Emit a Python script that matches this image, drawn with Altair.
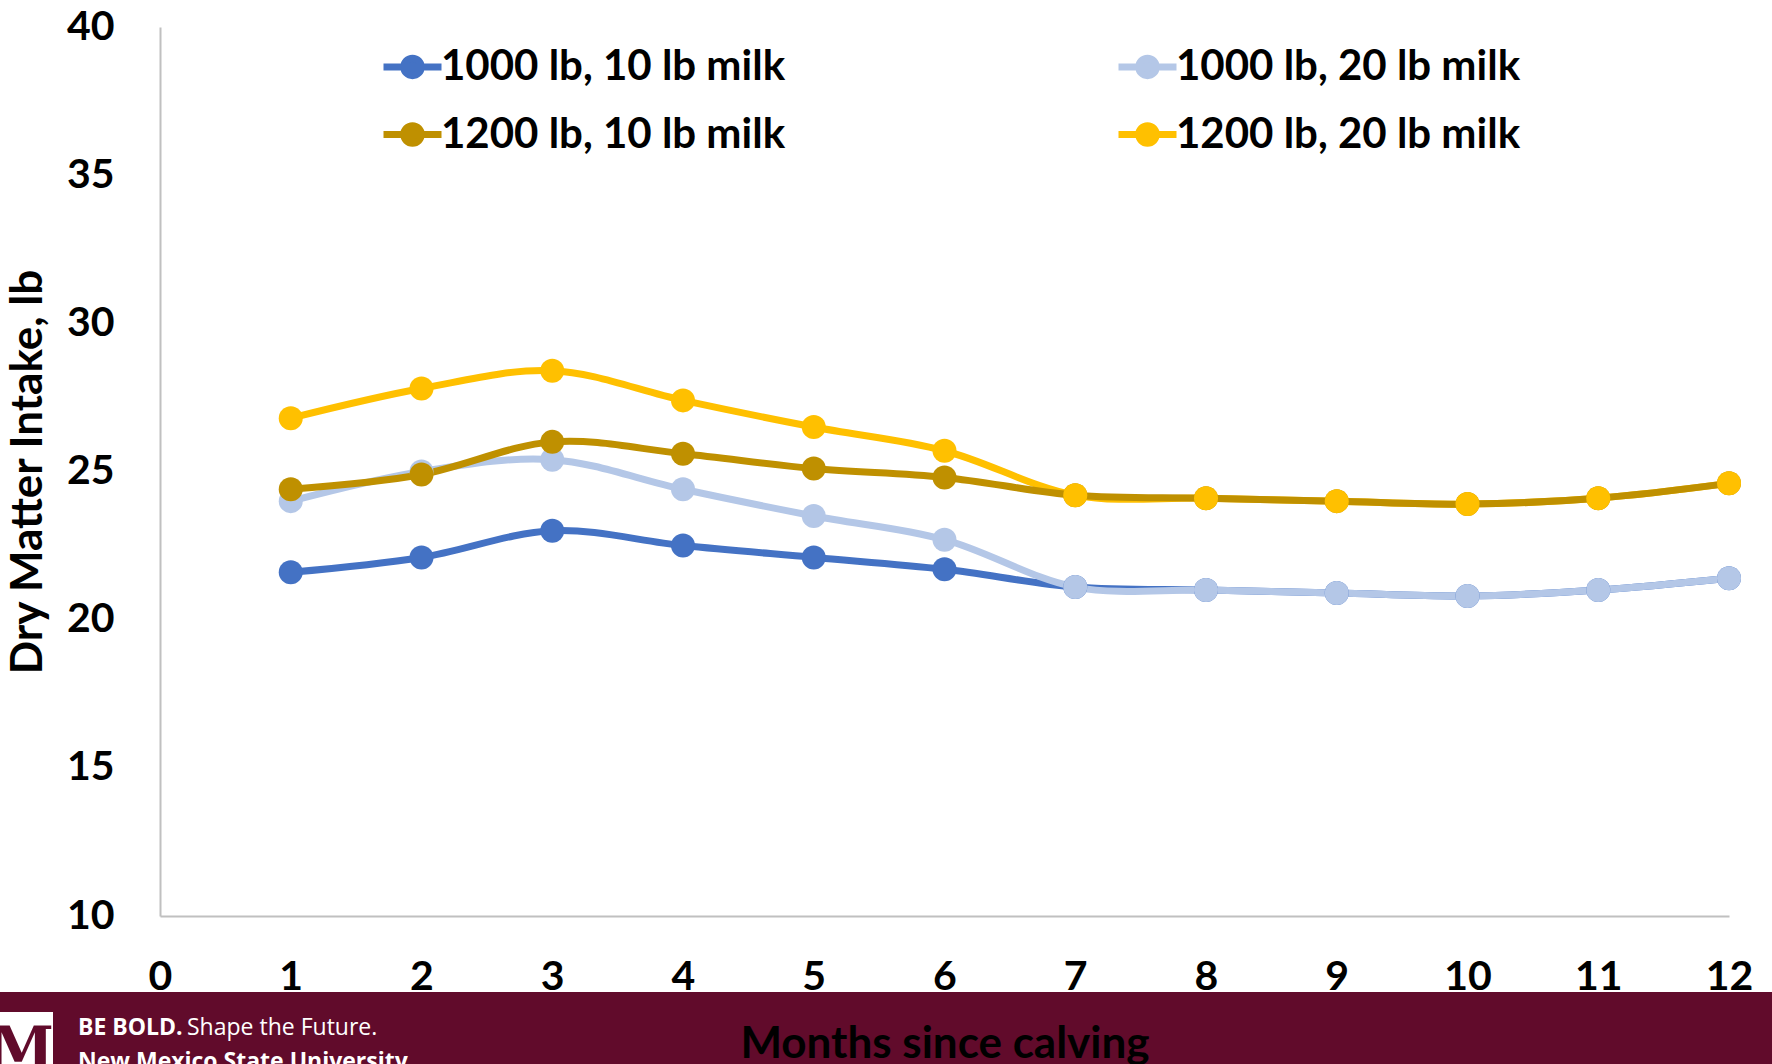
import altair as alt
import pandas as pd

# Dry matter intake (lb/day) by month since calving
months = [1, 2, 3, 4, 5, 6, 7, 8, 9, 10, 11, 12]
series_names = [
    "1000 lb, 10 lb milk",
    "1000 lb, 20 lb milk",
    "1200 lb, 10 lb milk",
    "1200 lb, 20 lb milk",
]
dmi_1000_10 = [21.6, 22.1, 23.0, 22.5, 22.1, 21.7, 21.1, 21.0, 20.9, 20.8, 21.0, 21.4]
dmi_1000_20 = [24.0, 25.0, 25.4, 24.4, 23.5, 22.7, 21.1, 21.0, 20.9, 20.8, 21.0, 21.4]
dmi_1200_10 = [24.4, 24.9, 26.0, 25.6, 25.1, 24.8, 24.2, 24.1, 24.0, 23.9, 24.1, 24.6]
dmi_1200_20 = [26.8, 27.8, 28.4, 27.4, 26.5, 25.7, 24.2, 24.1, 24.0, 23.9, 24.1, 24.6]
series_colors = ["#4472C4", "#B4C7E7", "#BF9000", "#FFC000"]
y_ticks = [10, 15, 20, 25, 30, 35, 40]
x_ticks = list(range(0, 13))

values = [dmi_1000_10, dmi_1000_20, dmi_1200_10, dmi_1200_20]
rows = []
for name, vals in zip(series_names, values):
    for m, v in zip(months, vals):
        rows.append({"month": m, "dmi": v, "series": name})
df = pd.DataFrame(rows)

W, H = 1569, 889
FONT = "Lato"
MAROON = "#610B2B"

x_enc = alt.X(
    "month:Q",
    scale=alt.Scale(domain=[0, 12], nice=False, zero=False),
    axis=alt.Axis(
        values=x_ticks, format="d", grid=False, ticks=False, tickSize=0,
        domainColor="#C0C0C0", domainWidth=2, labelFlush=False,
        labelFont=FONT, labelFontWeight="bold", labelFontSize=41, labelColor="black",
        labelPadding=41, labelBaseline="top",
        title="Months since calving", titleFont=FONT, titleFontWeight="bold",
        titleFontSize=44, titleColor="black", titleX=W / 2, titleY=141,
        titleAlign="center", titleBaseline="alphabetic", zindex=1,
    ),
)
y_enc = alt.Y(
    "dmi:Q",
    scale=alt.Scale(domain=[10, 40], nice=False, zero=False),
    axis=alt.Axis(
        values=y_ticks, grid=False, ticks=False, tickSize=0,
        domainColor="#C0C0C0", domainWidth=2, labelFlush=False,
        labelFont=FONT, labelFontWeight="bold", labelFontSize=41, labelColor="black",
        labelPadding=46,
        title="Dry Matter Intake, lb", titleFont=FONT, titleFontWeight="bold",
        titleFontSize=44, titleColor="black", titleAngle=270,
        titleX=-132, titleY=H / 2, titleAlign="center", titleBaseline="middle",
    ),
)

# legend symbol: short stroke with a dot in the middle (stroke runs a bit past the symbol box)
legend_symbol = "M-1.16,0L1.16,0M0.35,0A0.35,0.35,0,1,1,-0.35,0A0.35,0.35,0,1,1,0.35,0Z"
legend = alt.Legend(
    orient="none", legendX=224, legendY=11, columns=2, columnPadding=318,
    rowPadding=16, title=None, padding=0,
    symbolType=legend_symbol, symbolSize=2500, symbolStrokeWidth=7,
    labelFont=FONT, labelFontWeight="bold", labelFontSize=42, labelColor="black",
    labelOffset=0, labelLimit=800,
)
# legend fills column by column: first column holds the 10 lb milk series
legend_order = [0, 2, 1, 3]
color_scale = alt.Scale(
    domain=[series_names[i] for i in legend_order],
    range=[series_colors[i] for i in legend_order],
)

base = alt.Chart(df)

line_order = [0, 1, 3, 2]
lines = [
    base.transform_filter(alt.datum.series == series_names[i])
    .mark_line(interpolate="cardinal", strokeWidth=7, color=series_colors[i])
    .encode(x=x_enc, y=y_enc)
    for i in line_order
]
points = [
    base.transform_filter(alt.datum.series == series_names[i])
    .mark_circle(size=576, opacity=1, strokeWidth=0)
    .encode(
        x=x_enc, y=y_enc,
        fill=alt.Fill("series:N", scale=color_scale, legend=legend),
        stroke=alt.Stroke("series:N", scale=color_scale, legend=legend),
    )
    for i in range(4)
]

# footer banner
one = pd.DataFrame({"k": [0]})
banner = alt.Chart(one).mark_rect(color=MAROON).encode(
    x=alt.value(-160), x2=alt.value(1612), y=alt.value(965), y2=alt.value(1037)
)
logo_box = alt.Chart(one).mark_rect(color="white").encode(
    x=alt.value(-160), x2=alt.value(-107), y=alt.value(985), y2=alt.value(1037)
)
logo_m = alt.Chart(one).mark_text(
    text="M", font="DejaVu Serif", fontWeight="bold", fontSize=58,
    color=MAROON, align="right", baseline="alphabetic"
).encode(x=alt.value(-106), y=alt.value(1041))
tag_bold = alt.Chart(one).mark_text(
    text="BE BOLD.", font="Open Sans", fontWeight="bold", fontSize=23,
    color="white", align="left", baseline="alphabetic"
).encode(x=alt.value(-82), y=alt.value(1008))
tag_regular = alt.Chart(one).mark_text(
    text="Shape the Future.", font="Open Sans", fontSize=23,
    color="white", align="left", baseline="alphabetic"
).encode(x=alt.value(27), y=alt.value(1008))
uni_name = alt.Chart(one).mark_text(
    text="New Mexico State University", font="Open Sans", fontWeight="bold",
    fontSize=23, color="white", align="left", baseline="alphabetic"
).encode(x=alt.value(-82), y=alt.value(1042))

chart = alt.layer(
    *lines, *points, banner, logo_box, logo_m, tag_bold, tag_regular, uni_name
).properties(
    width=W, height=H,
    autosize=alt.AutoSizeParams(type="none"),
    padding={"left": 160, "top": 27, "right": 43, "bottom": 148},
    background="white",
).configure_view(stroke=None)

chart.save("out.html", embed_options={"renderer": "svg", "actions": False})
